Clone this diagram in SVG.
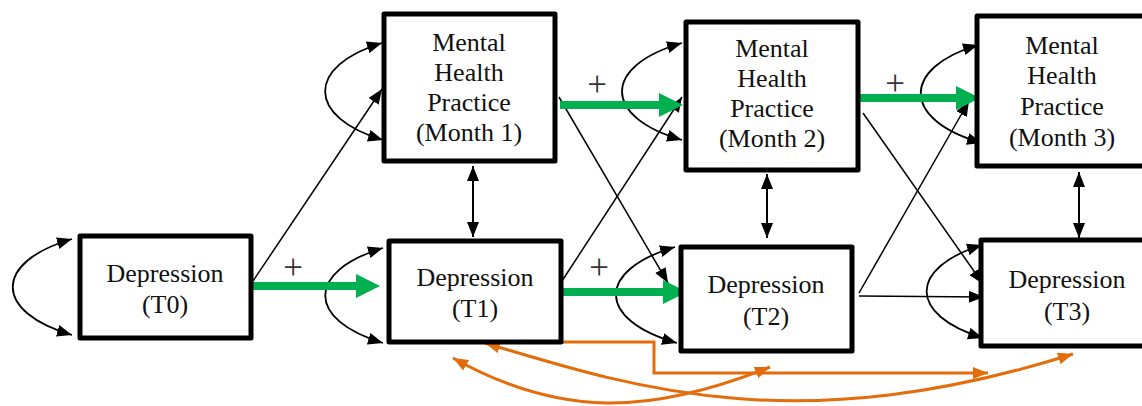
<svg xmlns="http://www.w3.org/2000/svg" width="1142" height="406" viewBox="0 0 1142 406">
<style>
.box{fill:#fff;stroke:#000;stroke-width:5;stroke-linejoin:round}
.lbl{font-family:"Liberation Serif","Times New Roman",serif;font-size:26px;fill:#111;text-anchor:middle}
.plus{font-family:"Liberation Serif","Times New Roman",serif;font-size:35px;fill:#333;text-anchor:middle}
.thin{fill:none;stroke:#000;stroke-width:1.5;marker-end:url(#ab)}
.loop{fill:none;stroke:#000;stroke-width:1.8;marker-start:url(#ab);marker-end:url(#ab)}
.vert{fill:none;stroke:#000;stroke-width:2;marker-start:url(#ab);marker-end:url(#ab)}
.green{fill:none;stroke:#00B050;stroke-width:8;marker-end:url(#ag)}
.orange{fill:none;stroke:#E46C0A;stroke-width:3}
</style>
<defs>
<marker id="ab" markerUnits="userSpaceOnUse" markerWidth="15" markerHeight="12" viewBox="0 0 15 12" refX="15" refY="6" orient="auto-start-reverse"><path d="M0,0 L15,6 L0,12 z" fill="#000"/></marker>
<marker id="ao" markerUnits="userSpaceOnUse" markerWidth="15" markerHeight="12" viewBox="0 0 15 12" refX="15" refY="6" orient="auto-start-reverse"><path d="M0,0 L15,6 L0,12 z" fill="#E46C0A"/></marker>
<marker id="ag" markerUnits="userSpaceOnUse" markerWidth="24" markerHeight="24" viewBox="0 0 24 24" refX="0" refY="12" orient="auto"><path d="M0,0 L24,12 L0,24 z" fill="#00B050"/></marker>
</defs>

<g id="connectors">
<!-- self loops -->
<path class="loop" d="M72 239 C-7 262,-7 312,72 335"/>
<path class="loop" d="M382 43 C306 66,306 117,383 140"/>
<path class="loop" d="M383 248 C306 271,306 320,383 343"/>
<path class="loop" d="M682 43 C602 66,602 117,682 140"/>
<path class="loop" d="M675 247 C596 270,596 320,677 343"/>
<path class="loop" d="M978 45 C901 68,901 120,982 143"/>
<path class="loop" d="M982 245 C908 268,908 315,983 338"/>
<!-- cross-lagged thin arrows -->
<path class="thin" d="M253 281 L382 89"/>
<path class="thin" d="M559 97 L668 283"/>
<path class="thin" d="M562 281 L682 97"/>
<path class="thin" d="M863 113 L983 284"/>
<path class="thin" d="M859 293 L969 101"/>
<path class="thin" d="M859 296 L984 297"/>
<!-- vertical double arrows -->
<path class="vert" d="M473 166 L473 237"/>
<path class="vert" d="M767 174 L767 238"/>
<path class="vert" d="M1079 172 L1079 238"/>
<!-- green arrows -->
<path class="green" d="M252 286 L356 286"/>
<path class="green" d="M560 105 L659 105"/>
<path class="green" d="M560 292 L663 292"/>
<path class="green" d="M853 98 L956 98"/>
<!-- orange -->
<path class="orange" d="M563 342 H654 V373 H988" marker-end="url(#ao)"/>
<path class="orange" d="M485 343 C640 390,800 440,1073 354" marker-start="url(#ao)" marker-end="url(#ao)"/>
<path class="orange" d="M453 358 C560 418,650 415,770 367" marker-start="url(#ao)" marker-end="url(#ao)"/>
<!-- plus labels -->
<text class="plus" x="293" y="279">+</text>
<text class="plus" x="597" y="96">+</text>
<text class="plus" x="599" y="279">+</text>
<text class="plus" x="895" y="95">+</text>
</g>

<g id="D0">
<rect class="box" x="80" y="236" width="171" height="102"/>
<text class="lbl" x="165" y="282">Depression</text>
<text class="lbl" x="165" y="313">(T0)</text>
</g>
<g id="M1">
<rect class="box" x="384" y="14" width="171" height="147"/>
<text class="lbl" x="469" y="51">Mental</text>
<text class="lbl" x="469" y="81">Health</text>
<text class="lbl" x="469" y="111">Practice</text>
<text class="lbl" x="469" y="141">(Month 1)</text>
</g>
<g id="D1">
<rect class="box" x="389" y="241" width="172" height="101"/>
<text class="lbl" x="475" y="286">Depression</text>
<text class="lbl" x="475" y="317">(T1)</text>
</g>
<g id="M2">
<rect class="box" x="686" y="22" width="172" height="148"/>
<text class="lbl" x="772" y="57">Mental</text>
<text class="lbl" x="772" y="87">Health</text>
<text class="lbl" x="772" y="117">Practice</text>
<text class="lbl" x="772" y="147">(Month 2)</text>
</g>
<g id="D2">
<rect class="box" x="681" y="247" width="171" height="104"/>
<text class="lbl" x="766" y="293">Depression</text>
<text class="lbl" x="766" y="325">(T2)</text>
</g>
<g id="M3">
<rect class="box" x="977" y="16" width="180" height="150"/>
<text class="lbl" x="1062" y="54">Mental</text>
<text class="lbl" x="1062" y="84">Health</text>
<text class="lbl" x="1062" y="115">Practice</text>
<text class="lbl" x="1062" y="146">(Month 3)</text>
</g>
<g id="D3">
<rect class="box" x="981" y="240" width="180" height="106"/>
<text class="lbl" x="1067" y="288">Depression</text>
<text class="lbl" x="1067" y="320">(T3)</text>
</g>
</svg>
